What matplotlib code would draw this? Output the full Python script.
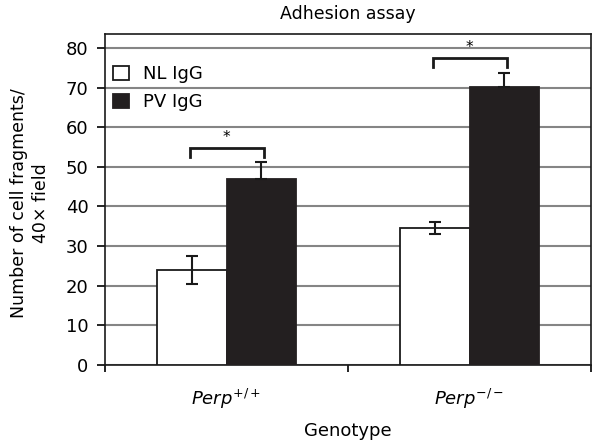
import matplotlib
matplotlib.use("Agg")
import matplotlib.pyplot as plt
import numpy as np

plt.rcParams['font.family'] = ['DejaVu Sans']
plt.rcParams['mathtext.fontset'] = 'dejavusans'

categories = [r'$\it{Perp}^{+/+}$', r'$\it{Perp}^{-/-}$']
nl_values = [24.0, 34.5]
nl_err = [3.6, 1.5]
pv_values = [47.0, 70.2]
pv_err = [4.2, 3.4]
series_names = ['NL IgG', 'PV IgG']
yticks = [0, 10, 20, 30, 40, 50, 60, 70, 80]
bracket_y = [54.7, 77.4]
bracket_drop = [2.3, 2.3]

fig = plt.figure(figsize=(6, 4.46), dpi=100)
ax = fig.add_axes([0.175, 0.1816, 0.81, 0.7422])

x = np.arange(len(categories))
w = 0.288
ax.set_axisbelow(True)
ax.yaxis.grid(True, color='#858585', lw=1.5)
ax.bar(x - w / 2, nl_values, w, color='white', edgecolor='#1a1a1a', lw=1.3,
       label=series_names[0], zorder=3)
ax.bar(x + w / 2, pv_values, w, color='#231f20', edgecolor='#231f20', lw=1.3,
       label=series_names[1], zorder=3)
ax.errorbar(x - w / 2, nl_values, yerr=nl_err, fmt='none', ecolor='#1a1a1a',
            elinewidth=1.5, capsize=4.5, capthick=1.5, zorder=4)
ax.errorbar(x + w / 2, pv_values, yerr=[[0, 0], pv_err], fmt='none', ecolor='#1a1a1a',
            elinewidth=1.5, capsize=4.5, capthick=1.5, zorder=4)

for i in range(len(categories)):
    x0 = x[i] - 0.15
    x1 = x[i] + 0.155
    yb = bracket_y[i]
    ax.plot([x0, x0, x1, x1], [yb - bracket_drop[i], yb, yb, yb - bracket_drop[i]],
            color='#1a1a1a', lw=2, zorder=5, solid_joinstyle='miter')
    ax.text(x[i], yb + 0.7, '*', ha='center', va='bottom', fontsize=11)

ax.set_xlim(-0.5, 1.5)
ax.set_ylim(0, 83.5)
ax.set_yticks(yticks)
ax.set_xticks([-0.5, 0.5, 1.5])
ax.set_xticklabels([])
ax.set_xticks(x, minor=True)
ax.set_xticklabels(categories, minor=True, fontsize=13)
ax.tick_params(axis='x', which='minor', length=0, pad=16)
ax.tick_params(axis='x', which='major', length=5, width=1.2, direction='out')
ax.tick_params(axis='y', length=6, width=1.2, direction='out', labelsize=13, pad=6)
for s in ax.spines.values():
    s.set_linewidth(1.2)
    s.set_color('#1a1a1a')

ax.set_xlabel('Genotype', fontsize=13, labelpad=8)
ax.set_ylabel('Number of cell fragments/\n40× field', fontsize=12.5,
              multialignment='center', linespacing=1.3)
ax.yaxis.label.set_va('center')
ax.yaxis.set_label_coords(-0.154, 0.49)
ax.set_title('Adhesion assay', fontsize=12.5, pad=11)

leg = ax.legend(loc='upper left', bbox_to_anchor=(0.01, 0.916), frameon=False,
                fontsize=13, handlelength=0.85, handleheight=0.85,
                handletextpad=0.8, labelspacing=0.55, borderaxespad=0.0,
                borderpad=0.2)

fig.savefig('out.png', dpi=100)
